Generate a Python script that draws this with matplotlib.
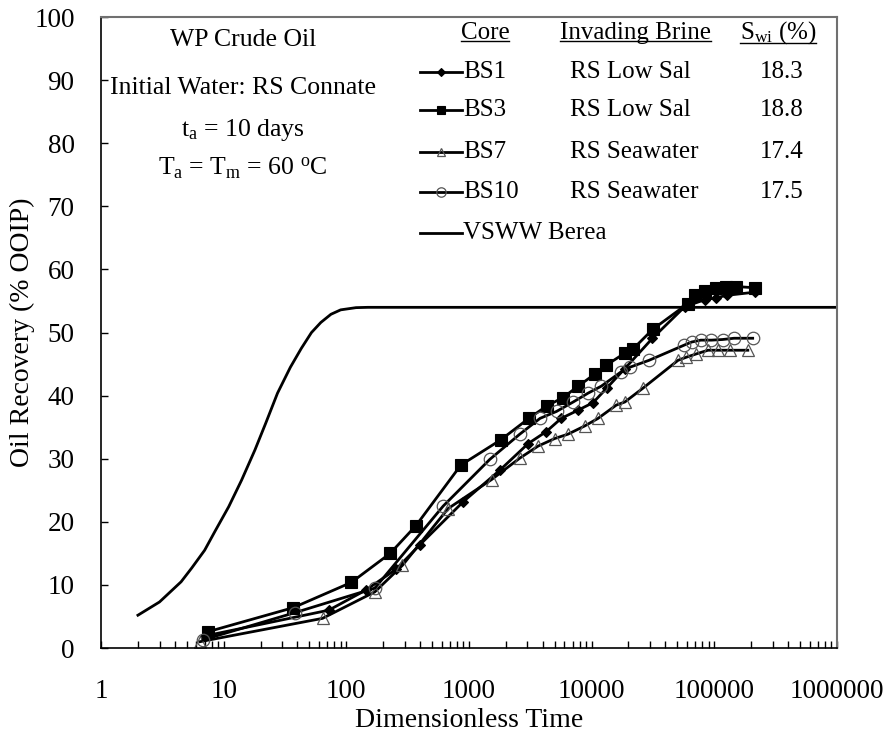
import numpy as np
import matplotlib
matplotlib.use('Agg')
import matplotlib.pyplot as plt
from matplotlib.lines import Line2D
from matplotlib.ticker import LogLocator, FixedLocator, NullFormatter

plt.rcParams['font.family'] = ['Liberation Serif', 'DejaVu Serif']
plt.rcParams['mathtext.fontset'] = 'custom'
plt.rcParams['mathtext.rm'] = 'Liberation Serif'
plt.rcParams['mathtext.it'] = 'Liberation Serif:italic'

# dados (tempo adimensional, recuperacao % OOIP)
bs1_t = [7, 72, 145, 255, 400, 900, 1790, 3040, 4270, 5660, 7770, 10300, 13300,
         18700, 31400, 57500, 83600, 104000, 126000, 214000]
bs1_r = [1.9, 6.0, 9.2, 12.5, 16.4, 23.2, 28.2, 32.4, 34.3, 36.4, 37.7, 38.9, 41.2,
         44.3, 49.1, 54.1, 55.2, 55.5, 55.9, 56.4]

bs3_t = [7.5, 37, 110, 228, 370, 860, 1820, 3080, 4340, 5860, 7770, 10600, 13100,
         18900, 21800, 31500, 61000, 70000, 84000, 104000, 125000, 150000, 215000]
bs3_r = [2.6, 6.4, 10.4, 15.0, 19.4, 29.0, 33.0, 36.4, 38.4, 39.7, 41.5, 43.4, 44.8,
         46.8, 47.4, 50.5, 54.6, 55.9, 56.6, 57.0, 57.2, 57.3, 57.1]

bs7_t = [6.4, 64, 171, 287, 676, 1530, 2600, 3660, 5000, 6430, 8800, 11300, 15900,
         18700, 26300, 50700, 59400, 71000, 89000, 108000, 134000, 188000]
bs7_r = [1.0, 4.7, 8.9, 13.1, 22.1, 26.7, 30.1, 32.0, 33.2, 33.9, 35.2, 36.4, 38.5,
         39.0, 41.2, 45.6, 46.1, 46.6, 47.2, 47.2, 47.2, 47.2]

bs10_t = [6.8, 38, 171, 617, 1480, 2600, 3800, 5180, 7090, 9370, 12000, 17500, 20500,
          29400, 56800, 65500, 77800, 95000, 117000, 145000, 206000]
bs10_r = [1.3, 5.6, 9.5, 22.5, 29.9, 33.9, 36.4, 37.5, 39.0, 40.4, 41.5, 43.8, 44.5,
          45.6, 48.0, 48.5, 48.8, 48.8, 48.9, 49.1, 49.1]

vsww_t = [2, 3, 4.5, 5.5, 7, 8.5, 11, 14, 18, 22, 27.5, 35, 43, 52, 62, 75, 90, 120,
          150, 1000000]
vsww_r = [5.2, 7.3, 10.5, 12.7, 15.5, 18.5, 22.4, 26.6, 31.4, 35.6, 40.4, 44.5, 47.5,
          50.0, 51.6, 52.9, 53.6, 53.95, 54.0, 54.0]

cores = ['BS1', 'BS3', 'BS7', 'BS10']
brines = ['RS Low Sal', 'RS Low Sal', 'RS Seawater', 'RS Seawater']
swi = ['18.3', '18.8', '17.4', '17.5']

notes = ['WP Crude Oil', 'Initial Water: RS Connate',
         r't$_\mathrm{a}$ = 10 days',
         r'T$_\mathrm{a}$ = T$_\mathrm{m}$ = 60 $^\mathrm{o}$C']

xticks = [1, 10, 100, 1000, 10000, 100000, 1000000]

styles = [
    dict(marker='D', ms=5, mfc='black', mec='black', mew=0.8),
    dict(marker='s', ms=8.5, mfc='black', mec='black', mew=0.8),
    dict(marker='^', ms=8.5, mfc='none', mec='#555555', mew=0.9),
    dict(marker='o', ms=9, mfc='none', mec='#555555', mew=0.9),
]

fig = plt.figure(figsize=(8.93, 7.44), dpi=100)
ax = fig.add_axes([0.1131, 0.129, 0.824, 0.848])

series = [(bs1_t, bs1_r), (bs3_t, bs3_r), (bs7_t, bs7_r), (bs10_t, bs10_r)]
for (t, r), st in zip(series, styles):
    ax.plot(t, r, color='black', lw=2, **st)
ax.plot(vsww_t, vsww_r, color='black', lw=2)

ax.set_xscale('log')
ax.set_xlim(1, 1000000)
ax.set_ylim(0, 100)
ax.xaxis.set_major_locator(FixedLocator(xticks))
ax.set_xticklabels([str(v) for v in xticks])
ax.xaxis.set_minor_locator(LogLocator(base=10, subs=np.arange(2, 10)))
ax.xaxis.set_minor_formatter(NullFormatter())
ax.set_yticks(np.arange(0, 101, 10))

ax.tick_params(axis='x', which='both', direction='in', length=5, width=1,
               labelsize=19.5, pad=22)
ax.tick_params(axis='y', direction='in', length=5, width=1, labelsize=19.5, pad=19)

for s in ['left', 'bottom']:
    ax.spines[s].set_color('black')
    ax.spines[s].set_linewidth(1.2)
for s in ['top', 'right']:
    ax.spines[s].set_color('#707070')
    ax.spines[s].set_linewidth(1.5)

ax.set_xlabel('Dimensionless Time', fontsize=20)
ax.set_ylabel('Oil Recovery (% OOIP)', fontsize=20)
ax.xaxis.set_label_coords(0.5, -0.095)
ax.yaxis.set_label_coords(-0.09, 0.5)

# bloco de texto da esquerda
for txt, yy in zip(notes, [0.964, 0.887, 0.821, 0.761]):
    ax.text(0.193, yy, txt, transform=ax.transAxes, ha='center', va='center', fontsize=18.5)

# legenda manual em colunas
hy = 0.975
headers = [('Core', 0.522), ('Invading Brine', 0.727), (r'S$_\mathrm{wi}$ (%)', 0.920)]
head_txts = []
for txt, xx in headers:
    head_txts.append(ax.text(xx, hy, txt, transform=ax.transAxes, ha='center',
                             va='center', fontsize=18))

rows_y = [0.913, 0.853, 0.786, 0.723, 0.658]
for i, st in enumerate(styles):
    yy = rows_y[i]
    ax.add_line(Line2D([0.433, 0.490], [yy, yy], transform=ax.transAxes, color='black', lw=2))
    ax.add_line(Line2D([0.4615], [yy], transform=ax.transAxes, color='black', lw=0,
                       **{k: (v * 0.75 if k == 'ms' else v) for k, v in st.items()}))
    ax.text(0.492, yy, cores[i], transform=ax.transAxes, ha='left', va='center', fontsize=18)
    ax.text(0.637, yy, brines[i], transform=ax.transAxes, ha='left', va='center', fontsize=18)
    ax.text(0.925, yy, swi[i], transform=ax.transAxes, ha='center', va='center', fontsize=18)
ax.add_line(Line2D([0.433, 0.490], [rows_y[4]] * 2, transform=ax.transAxes, color='black', lw=2))
ax.text(0.492, rows_y[4], 'VSWW Berea', transform=ax.transAxes, ha='left', va='center', fontsize=18)

# sublinhado dos cabecalhos
fig.canvas.draw()
rend = fig.canvas.get_renderer()
inv = ax.transAxes.inverted()
for t in head_txts:
    bb = t.get_window_extent(rend)
    (x0, y0), (x1, _) = inv.transform([(bb.x0, bb.y0 + 3), (bb.x1, bb.y0)])
    ax.add_line(Line2D([x0, x1], [y0, y0], transform=ax.transAxes, color='black', lw=1))

fig.savefig('out.png', dpi=100)
plt.close(fig)
